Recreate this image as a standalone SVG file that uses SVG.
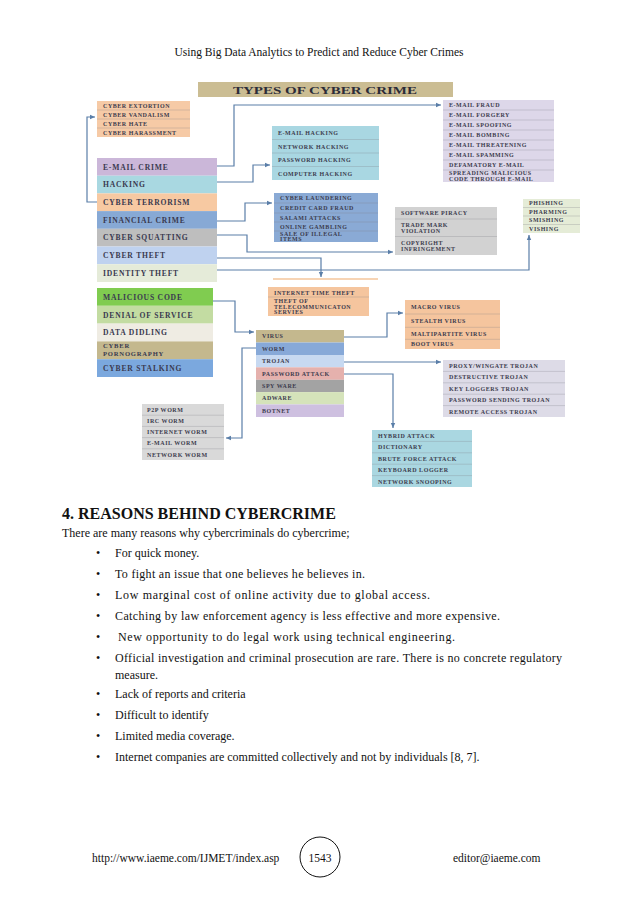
<svg xmlns="http://www.w3.org/2000/svg" width="638" height="903" viewBox="0 0 638 903">
<defs>
<marker id="ah" markerWidth="6" markerHeight="6" refX="5" refY="3" orient="auto" markerUnits="userSpaceOnUse">
<path d="M0,0.8 L5,3 L0,5.2 Z" fill="#5a7ea8"/>
</marker>
</defs>
<style>
.s{font-family:"Liberation Serif",serif;font-weight:bold;font-size:6px;letter-spacing:0.55px;fill:#3c3c4e}
.m{font-family:"Liberation Serif",serif;font-weight:bold;font-size:7.6px;letter-spacing:0.8px;fill:#3a3a50}
.sep{stroke:#7f8088;stroke-opacity:0.35;stroke-width:0.8}
.c{fill:none;stroke:#5a7ea8;stroke-width:1.2}
.b{font-family:"Liberation Serif",serif;font-size:12px;fill:#111}
.h{font-family:"Liberation Serif",serif;font-weight:bold;font-size:16px;fill:#111}
</style>
<rect width="638" height="903" fill="#fff"/>
<text x="319" y="56" text-anchor="middle" class="b" style="font-size:11.5px">Using Big Data Analytics to Predict and Reduce Cyber Crimes</text>

<g id="title">
<rect x="198" y="82" width="255" height="15" fill="#cbbd93"/>
<text x="325" y="93.5" text-anchor="middle" class="h" style="font-size:11px;fill:#2c2c38" textLength="184" lengthAdjust="spacingAndGlyphs">TYPES OF CYBER CRIME</text>
</g>

<g id="connectors">
<path class="c" d="M217,166 H234 V105 H441" marker-end="url(#ah)"/>
<path class="c" d="M217,182 H253 V165 H270" marker-end="url(#ah)"/>
<path class="c" d="M97,202 H87 V117 H95" marker-end="url(#ah)"/>
<path class="c" d="M217,221 H245 V203 H272" marker-end="url(#ah)"/>
<path class="c" d="M217,235 H247 V252 H393" marker-end="url(#ah)"/>
<path class="c" d="M217,258 H321 V277" marker-end="url(#ah)"/>
<path class="c" d="M217,270 H529 V235" marker-end="url(#ah)"/>
<path class="c" d="M213,301 H235 V332 H254" marker-end="url(#ah)"/>
<path class="c" d="M344,337 H387 V313 H403" marker-end="url(#ah)"/>
<path class="c" d="M256,348 H242 V438 H226" marker-end="url(#ah)"/>
<path class="c" d="M344,362 H441" marker-end="url(#ah)"/>
<path class="c" d="M344,374 H393 V428" marker-end="url(#ah)"/>
</g>

<g id="extortion-list">
<rect x="97" y="101" width="93" height="36" fill="#f6caa6"/>
<line class="sep" x1="97" y1="110" x2="190" y2="110"/>
<line class="sep" x1="97" y1="119" x2="190" y2="119"/>
<line class="sep" x1="97" y1="128" x2="190" y2="128"/>
<text class="s" x="103" y="107.8">CYBER EXTORTION</text>
<text class="s" x="103" y="116.8">CYBER VANDALISM</text>
<text class="s" x="103" y="125.8">CYBER HATE</text>
<text class="s" x="103" y="134.8">CYBER HARASSMENT</text>
</g>

<g id="main-list">
<rect x="97" y="158" width="120" height="17.7" fill="#cbb7d9"/>
<rect x="97" y="175.7" width="120" height="17.7" fill="#a9d8e1"/>
<rect x="97" y="193.4" width="120" height="17.7" fill="#f7c9a2"/>
<rect x="97" y="211.1" width="120" height="17.7" fill="#87a9d5"/>
<rect x="97" y="228.8" width="120" height="17.7" fill="#bebebe"/>
<rect x="97" y="246.5" width="120" height="17.7" fill="#bfd2ef"/>
<rect x="97" y="264.2" width="120" height="17.8" fill="#e5ebd9"/>
<text class="m" x="103" y="169.6">E-MAIL CRIME</text>
<text class="m" x="103" y="187.3">HACKING</text>
<text class="m" x="103" y="205">CYBER TERRORISM</text>
<text class="m" x="103" y="222.7">FINANCIAL CRIME</text>
<text class="m" x="103" y="240.4">CYBER SQUATTING</text>
<text class="m" x="103" y="258.1">CYBER THEFT</text>
<text class="m" x="103" y="275.8">IDENTITY THEFT</text>
</g>

<g id="main-list-2">
<rect x="97" y="288" width="116" height="17.8" fill="#80cc50"/>
<rect x="97" y="305.8" width="116" height="17.8" fill="#c3dca2"/>
<rect x="97" y="323.6" width="116" height="17.8" fill="#efece3"/>
<rect x="97" y="341.4" width="116" height="17.8" fill="#c4b88e"/>
<rect x="97" y="359.2" width="116" height="17.8" fill="#7ba8de"/>
<text class="m" x="103" y="299.7">MALICIOUS CODE</text>
<text class="m" x="103" y="317.5">DENIAL OF SERVICE</text>
<text class="m" x="103" y="335.3">DATA DIDLING</text>
<text class="m" x="103" y="348" style="font-size:6.6px">CYBER</text>
<text class="m" x="103" y="356.4" style="font-size:6.6px">PORNOGRAPHY</text>
<text class="m" x="103" y="370.9">CYBER STALKING</text>
</g>

<g id="hacking-list">
<rect x="272" y="126" width="107" height="54" fill="#a9d7e2"/>
<line class="sep" x1="272" y1="139.5" x2="379" y2="139.5"/>
<line class="sep" x1="272" y1="153" x2="379" y2="153"/>
<line class="sep" x1="272" y1="166.5" x2="379" y2="166.5"/>
<text class="s" x="278" y="135">E-MAIL HACKING</text>
<text class="s" x="278" y="148.5">NETWORK HACKING</text>
<text class="s" x="278" y="162">PASSWORD HACKING</text>
<text class="s" x="278" y="175.5">COMPUTER HACKING</text>
</g>

<g id="email-list">
<rect x="443" y="100" width="111" height="82" fill="#ddd7e9"/>
<line class="sep" x1="443" y1="110" x2="554" y2="110"/>
<line class="sep" x1="443" y1="120" x2="554" y2="120"/>
<line class="sep" x1="443" y1="130" x2="554" y2="130"/>
<line class="sep" x1="443" y1="140" x2="554" y2="140"/>
<line class="sep" x1="443" y1="150" x2="554" y2="150"/>
<line class="sep" x1="443" y1="160" x2="554" y2="160"/>
<line class="sep" x1="443" y1="170" x2="554" y2="170"/>
<text class="s" x="449" y="107.2">E-MAIL FRAUD</text>
<text class="s" x="449" y="117.2">E-MAIL FORGERY</text>
<text class="s" x="449" y="127.2">E-MAIL SPOOFING</text>
<text class="s" x="449" y="137.2">E-MAIL BOMBING</text>
<text class="s" x="449" y="147.2">E-MAIL THREATENING</text>
<text class="s" x="449" y="157.2">E-MAIL SPAMMING</text>
<text class="s" x="449" y="167.2">DEFAMATORY E-MAIL</text>
<text class="s" x="449" y="175.2">SPREADING MALICIOUS</text>
<text class="s" x="449" y="180.6">CODE THROUGH E-MAIL</text>
</g>

<g id="financial-list">
<rect x="274" y="193" width="104" height="49" fill="#8aaad5"/>
<line class="sep" x1="274" y1="203" x2="378" y2="203"/>
<line class="sep" x1="274" y1="213" x2="378" y2="213"/>
<line class="sep" x1="274" y1="222" x2="378" y2="222"/>
<line class="sep" x1="274" y1="231" x2="378" y2="231"/>
<text class="s" x="280" y="200.3">CYBER LAUNDERING</text>
<text class="s" x="280" y="210.3">CREDIT CARD FRAUD</text>
<text class="s" x="280" y="219.8">SALAMI ATTACKS</text>
<text class="s" x="280" y="228.8">ONLINE GAMBLING</text>
<text class="s" x="280" y="235.5">SALE OF ILLEGAL</text>
<text class="s" x="280" y="241">ITEMS</text>
</g>

<g id="piracy-list">
<rect x="395" y="207" width="102" height="48" fill="#d2d2d2"/>
<line class="sep" x1="395" y1="219" x2="497" y2="219"/>
<line class="sep" x1="395" y1="236.5" x2="497" y2="236.5"/>
<text class="s" x="401" y="215">SOFTWARE PIRACY</text>
<text class="s" x="401" y="226.5">TRADE MARK</text>
<text class="s" x="401" y="233">VIOLATION</text>
<text class="s" x="401" y="244.8">COPYRIGHT</text>
<text class="s" x="401" y="251.3">INFRINGEMENT</text>
</g>

<g id="phishing-list">
<rect x="523" y="199" width="57" height="34" fill="#e5ecd7"/>
<line class="sep" x1="523" y1="207.5" x2="580" y2="207.5"/>
<line class="sep" x1="523" y1="216" x2="580" y2="216"/>
<line class="sep" x1="523" y1="224.5" x2="580" y2="224.5"/>
<text class="s" x="529" y="205.4">PHISHING</text>
<text class="s" x="529" y="213.9">PHARMING</text>
<text class="s" x="529" y="222.4">SMISHING</text>
<text class="s" x="529" y="230.9">VISHING</text>
</g>

<g id="time-theft-list">
<rect x="273" y="278" width="105" height="2" fill="#f7d4b4"/>
<rect x="268" y="287" width="101" height="29" fill="#f5c59e"/>
<line class="sep" x1="268" y1="297" x2="369" y2="297"/>
<text class="s" x="274" y="294.5">INTERNET TIME THEFT</text>
<text class="s" x="274" y="303.2">THEFT OF</text>
<text class="s" x="274" y="308.8">TELECOMMUNICATON</text>
<text class="s" x="274" y="314.3">SERVIES</text>
</g>

<g id="malware-list">
<rect x="256" y="330" width="88" height="12.5" fill="#c4b88e"/>
<rect x="256" y="342.5" width="88" height="12.5" fill="#87a9d8"/>
<rect x="256" y="355" width="88" height="12.3" fill="#c7d9f1"/>
<rect x="256" y="367.3" width="88" height="12.5" fill="#e5b1ad"/>
<rect x="256" y="379.8" width="88" height="12.3" fill="#a3a3a3"/>
<rect x="256" y="392.1" width="88" height="12.3" fill="#d5e3ba"/>
<rect x="256" y="404.4" width="88" height="12.6" fill="#cec0e0"/>
<text class="s" x="262" y="338.4">VIRUS</text>
<text class="s" x="262" y="350.9">WORM</text>
<text class="s" x="262" y="363.3">TROJAN</text>
<text class="s" x="262" y="375.7">PASSWORD ATTACK</text>
<text class="s" x="262" y="388.1">SPY WARE</text>
<text class="s" x="262" y="400.4">ADWARE</text>
<text class="s" x="262" y="412.8">BOTNET</text>
</g>

<g id="virus-list">
<rect x="405" y="300" width="95" height="49" fill="#f5c59e"/>
<line class="sep" x1="405" y1="314" x2="500" y2="314"/>
<line class="sep" x1="405" y1="327.3" x2="500" y2="327.3"/>
<line class="sep" x1="405" y1="339.3" x2="500" y2="339.3"/>
<text class="s" x="411" y="309">MACRO VIRUS</text>
<text class="s" x="411" y="322.6">STEALTH VIRUS</text>
<text class="s" x="411" y="335.5">MALTIPARTITE VIRUS</text>
<text class="s" x="411" y="346.2">BOOT VIRUS</text>
</g>

<g id="trojan-list">
<rect x="443" y="360" width="122" height="57" fill="#dddbe7"/>
<line class="sep" x1="443" y1="371.4" x2="565" y2="371.4"/>
<line class="sep" x1="443" y1="382.8" x2="565" y2="382.8"/>
<line class="sep" x1="443" y1="394.2" x2="565" y2="394.2"/>
<line class="sep" x1="443" y1="405.6" x2="565" y2="405.6"/>
<text class="s" x="449" y="367.9">PROXY/WINGATE TROJAN</text>
<text class="s" x="449" y="379.3">DESTRUCTIVE TROJAN</text>
<text class="s" x="449" y="390.7">KEY LOGGERS TROJAN</text>
<text class="s" x="449" y="402.1">PASSWORD SENDING TROJAN</text>
<text class="s" x="449" y="413.5">REMOTE ACCESS TROJAN</text>
</g>

<g id="worm-list">
<rect x="142" y="404" width="82" height="56" fill="#d9d9d9"/>
<line class="sep" x1="142" y1="415.2" x2="224" y2="415.2"/>
<line class="sep" x1="142" y1="426.4" x2="224" y2="426.4"/>
<line class="sep" x1="142" y1="437.6" x2="224" y2="437.6"/>
<line class="sep" x1="142" y1="448.8" x2="224" y2="448.8"/>
<text class="s" x="147" y="411.8">P2P WORM</text>
<text class="s" x="147" y="423">IRC WORM</text>
<text class="s" x="147" y="434.2">INTERNET WORM</text>
<text class="s" x="147" y="445.4">E-MAIL WORM</text>
<text class="s" x="147" y="456.6">NETWORK WORM</text>
</g>

<g id="password-list">
<rect x="372" y="430" width="100" height="57" fill="#aad7e1"/>
<line class="sep" x1="372" y1="441.4" x2="472" y2="441.4"/>
<line class="sep" x1="372" y1="452.8" x2="472" y2="452.8"/>
<line class="sep" x1="372" y1="464.2" x2="472" y2="464.2"/>
<line class="sep" x1="372" y1="475.6" x2="472" y2="475.6"/>
<text class="s" x="378" y="437.9">HYBRID ATTACK</text>
<text class="s" x="378" y="449.3">DICTIONARY</text>
<text class="s" x="378" y="460.7">BRUTE FORCE ATTACK</text>
<text class="s" x="378" y="472.1">KEYBOARD LOGGER</text>
<text class="s" x="378" y="483.5">NETWORK SNOOPING</text>
</g>

<g id="body">
<text class="h" x="62" y="519">4. REASONS BEHIND CYBERCRIME</text>
<text class="b" x="62" y="537">There are many reasons why cybercriminals do cybercrime;</text>
<g class="b">
<text x="96" y="557">•</text><text x="115" y="557">For quick money.</text>
<text x="96" y="578">•</text><text x="115" y="578" textLength="250" lengthAdjust="spacing">To fight an issue that one believes he believes in.</text>
<text x="96" y="599">•</text><text x="115" y="599" textLength="315" lengthAdjust="spacing">Low marginal cost of online activity due to global access.</text>
<text x="96" y="620">•</text><text x="115" y="620" textLength="385" lengthAdjust="spacing">Catching by law enforcement agency is less effective and more expensive.</text>
<text x="96" y="641">•</text><text x="118" y="641" textLength="337" lengthAdjust="spacing">New opportunity to do legal work using technical engineering.</text>
<text x="96" y="662">•</text><text x="115" y="662" textLength="447" lengthAdjust="spacing">Official investigation and criminal prosecution are rare. There is no concrete regulatory</text>
<text x="115" y="679">measure.</text>
<text x="96" y="698">•</text><text x="115" y="698">Lack of reports and criteria</text>
<text x="96" y="719">•</text><text x="115" y="719">Difficult to identify</text>
<text x="96" y="740">•</text><text x="115" y="740">Limited media coverage.</text>
<text x="96" y="761">•</text><text x="115" y="761">Internet companies are committed collectively and not by individuals [8, 7].</text>
</g>
</g>

<g id="footer">
<text class="b" x="92" y="862" style="font-size:11.5px">http://www.iaeme.com/IJMET/index.asp</text>
<circle cx="320" cy="857" r="20" fill="none" stroke="#111" stroke-width="1"/>
<text class="b" x="320" y="862" text-anchor="middle" style="font-size:11.5px">1543</text>
<text class="b" x="453" y="862" style="font-size:11.5px">editor@iaeme.com</text>
</g>
</svg>
